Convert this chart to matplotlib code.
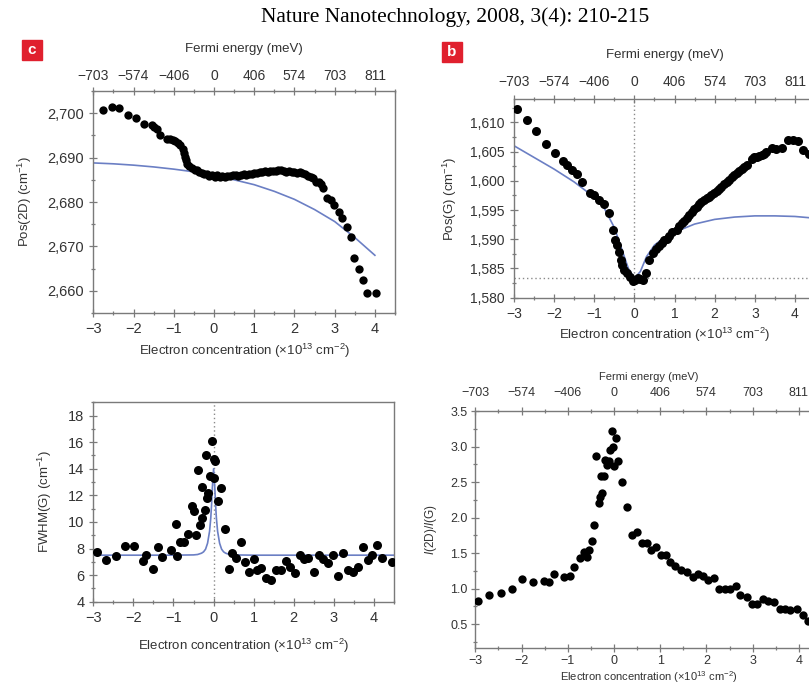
import matplotlib
matplotlib.use("Agg")
import matplotlib.pyplot as plt
from matplotlib.ticker import MultipleLocator, FixedLocator
from matplotlib.patches import Rectangle

plt.rcParams['font.family'] = ['Liberation Sans', 'DejaVu Sans']
plt.rcParams['mathtext.fontset'] = 'custom'
plt.rcParams['mathtext.rm'] = 'Liberation Sans'
plt.rcParams['mathtext.it'] = 'Liberation Sans:italic'

TEXT = '#333333'
SPINE = '#7a7a7a'
BLUE = '#6b7fc4'

# Fermi energy scale on the top axes (meV) at integer electron concentrations
fermi_pos = [-3, -2, -1, 0, 1, 2, 3, 4]
fermi_labels = ['\u2212703', '\u2212574', '\u2212406', '0', '406', '574', '703', '811']
n_ticks = [-3, -2, -1, 0, 1, 2, 3, 4]
n_labels = ['\u22123', '\u22122', '\u22121', '0', '1', '2', '3', '4']

# ---- Pos(2D) versus electron concentration ----
pos2d_n = [-2.75, -2.54, -2.35, -2.14, -1.94, -1.74, -1.55, -1.48, -1.42, -1.34,
           -1.17, -1.10, -1.03, -0.97, -0.90, -0.84, -0.78, -0.75, -0.72, -0.69,
           -0.66, -0.62, -0.55, -0.48, -0.42, -0.36, -0.30, -0.24, -0.18, -0.12,
           -0.05, 0.02, 0.08, 0.14, 0.20, 0.27, 0.33, 0.40, 0.47, 0.54,
           0.60, 0.67, 0.74, 0.80, 0.87, 0.94, 1.00, 1.07, 1.14, 1.20,
           1.27, 1.34, 1.40, 1.47, 1.54, 1.60, 1.67, 1.74, 1.80, 1.87,
           1.94, 2.00, 2.07, 2.14, 2.20, 2.27, 2.34, 2.40, 2.47, 2.54,
           2.60, 2.66, 2.72, 2.81, 2.90, 2.98, 3.10, 3.19, 3.31, 3.40,
           3.49, 3.60, 3.71, 3.81, 4.02]
pos2d_val = [2700.7, 2701.5, 2701.2, 2699.6, 2698.9, 2697.6, 2697.4, 2697.0, 2696.5, 2695.0,
             2694.3, 2694.1, 2693.9, 2693.7, 2693.4, 2692.9, 2691.9, 2691.0, 2690.2, 2689.4,
             2688.6, 2688.0, 2687.6, 2687.3, 2687.1, 2686.8, 2686.6, 2686.4, 2686.2, 2685.9,
             2686.1, 2685.7, 2686.0, 2685.7, 2685.8, 2685.6, 2685.8, 2685.9, 2686.0, 2686.1,
             2685.9, 2686.1, 2686.2, 2686.1, 2686.3, 2686.4, 2686.5, 2686.6, 2686.7, 2686.8,
             2686.9, 2686.8, 2686.9, 2687.0, 2686.9, 2687.1, 2687.2, 2687.0, 2686.8, 2686.9,
             2686.7, 2686.8, 2686.6, 2686.7, 2686.5, 2686.2, 2685.9, 2685.7, 2685.4, 2684.6,
             2684.4, 2684.1, 2683.1, 2680.8, 2680.5, 2679.3, 2677.8, 2676.3, 2674.4, 2672.2,
             2667.3, 2664.8, 2662.4, 2659.6, 2659.6]
pos2d_fit_n = [-3.0, -2.5, -2.0, -1.5, -1.0, -0.5, 0.0, 0.5, 1.0, 1.5, 2.0, 2.5, 3.0, 3.5, 4.0]
pos2d_fit = [2688.8, 2688.6, 2688.3, 2687.9, 2687.4, 2686.8, 2686.0, 2685.0, 2683.9,
             2682.4, 2680.6, 2678.3, 2675.6, 2672.0, 2668.0]

# ---- Pos(G) versus electron concentration ----
posg_n = [-2.92, -2.68, -2.44, -2.21, -1.98, -1.77, -1.69, -1.56, -1.44, -1.30,
          -1.11, -1.00, -0.87, -0.76, -0.64, -0.53, -0.48, -0.43, -0.38, -0.34,
          -0.30, -0.26, -0.19, -0.11, -0.04, 0.01, 0.08, 0.14, 0.22, 0.30,
          0.37, 0.47, 0.55, 0.62, 0.68, 0.74, 0.80, 0.87, 0.93, 1.05,
          1.12, 1.18, 1.24, 1.30, 1.37, 1.43, 1.49, 1.55, 1.61, 1.67,
          1.74, 1.80, 1.86, 1.92, 1.98, 2.05, 2.11, 2.17, 2.23, 2.30,
          2.36, 2.42, 2.48, 2.55, 2.61, 2.67, 2.73, 2.80, 2.92, 2.98,
          3.05, 3.11, 3.17, 3.23, 3.29, 3.42, 3.54, 3.67, 3.82, 3.96,
          4.08, 4.21, 4.35]
posg_val = [1612.3, 1610.4, 1608.6, 1606.3, 1604.7, 1603.4, 1602.7, 1601.8, 1601.1, 1599.8,
            1598.0, 1597.6, 1596.7, 1596.1, 1594.5, 1591.5, 1589.9, 1589.0, 1587.9, 1586.4,
            1585.6, 1584.8, 1584.2, 1583.5, 1582.9, 1583.1, 1583.3, 1583.2, 1583.0, 1584.3,
            1586.4, 1587.7, 1588.4, 1588.9, 1589.3, 1589.8, 1590.1, 1590.6, 1591.2, 1591.6,
            1592.2, 1592.8, 1593.2, 1593.7, 1594.2, 1594.7, 1595.1, 1595.6, 1596.0, 1596.4,
            1596.7, 1597.0, 1597.3, 1597.6, 1597.9, 1598.2, 1598.6, 1599.0, 1599.4, 1599.8,
            1600.2, 1600.7, 1601.0, 1601.4, 1601.7, 1602.0, 1602.4, 1602.7, 1603.8, 1604.0,
            1604.0, 1604.2, 1604.4, 1604.6, 1605.0, 1605.6, 1605.4, 1605.7, 1607.0, 1606.9,
            1606.8, 1605.2, 1604.6]
posg_fit_n = [-3.0, -2.5, -2.0, -1.5, -1.0, -0.75, -0.5, -0.3, -0.15, 0.0,
              0.15, 0.3, 0.5, 0.75, 1.0, 1.5, 2.0, 2.5, 3.0, 3.5, 4.0, 4.5]
posg_fit = [1606.0, 1604.0, 1602.0, 1599.8, 1597.2, 1595.3, 1592.0, 1588.0, 1585.0, 1583.3,
            1584.5, 1587.0, 1589.0, 1590.3, 1591.2, 1592.6, 1593.4, 1593.8, 1594.0, 1594.0,
            1593.9, 1593.6]
posg_min = 1583.3

# ---- FWHM(G) versus electron concentration ----
fwhm_n = [-2.92, -2.68, -2.44, -2.21, -1.98, -1.75, -1.69, -1.51, -1.38, -1.28,
          -1.07, -0.94, -0.90, -0.84, -0.74, -0.63, -0.55, -0.49, -0.43, -0.38,
          -0.33, -0.30, -0.28, -0.22, -0.20, -0.16, -0.14, -0.09, -0.05, 0.00,
          0.01, 0.03, 0.11, 0.18, 0.28, 0.38, 0.47, 0.57, 0.68, 0.78,
          0.89, 1.00, 1.09, 1.19, 1.30, 1.44, 1.55, 1.69, 1.80, 1.90,
          2.02, 2.15, 2.25, 2.36, 2.50, 2.63, 2.73, 2.85, 2.98, 3.10,
          3.23, 3.35, 3.48, 3.60, 3.73, 3.85, 3.96, 4.08, 4.21, 4.44]
fwhm_val = [7.76, 7.14, 7.46, 8.22, 8.22, 7.06, 7.51, 6.43, 8.14, 7.39,
            7.89, 9.82, 7.46, 8.47, 8.47, 9.07, 11.2, 10.85, 9.02, 13.9,
            9.77, 12.6, 10.27, 10.9, 15.04, 11.8, 12.15, 13.46, 16.1, 14.7,
            13.3, 14.6, 11.6, 12.53, 9.47, 6.48, 7.64, 7.26, 8.52, 7.0,
            6.23, 7.19, 6.38, 6.56, 5.76, 5.63, 6.38, 6.38, 7.09, 6.63,
            6.13, 7.51, 7.19, 7.31, 6.23, 7.51, 7.19, 6.89, 7.51, 5.93,
            7.69, 6.38, 6.26, 6.63, 8.09, 7.14, 7.49, 8.27, 7.31, 6.96]
fwhm_fit_n = [-3.0, -1.0, -0.5, -0.4, -0.3, -0.25, -0.2, -0.15, -0.1, -0.07,
              -0.05, -0.03, 0.0, 0.03, 0.05, 0.07, 0.1, 0.15, 0.2, 0.25,
              0.3, 0.4, 0.5, 1.0, 4.5]
fwhm_fit = [7.5, 7.5, 7.52, 7.55, 7.65, 7.75, 7.95, 8.4, 9.3, 10.3,
            11.3, 12.6, 14.0, 12.6, 11.3, 10.3, 9.3, 8.4, 7.95, 7.75,
            7.65, 7.55, 7.52, 7.5, 7.5]

# ---- I(2D)/I(G) versus electron concentration ----
ratio_n = [-2.94, -2.70, -2.45, -2.21, -1.98, -1.75, -1.51, -1.40, -1.30, -1.08,
           -0.95, -0.86, -0.74, -0.65, -0.59, -0.53, -0.48, -0.43, -0.38, -0.33,
           -0.30, -0.28, -0.25, -0.21, -0.20, -0.16, -0.11, -0.09, -0.04, -0.02,
           0.00, 0.04, 0.09, 0.18, 0.28, 0.38, 0.49, 0.60, 0.71, 0.80,
           0.90, 1.01, 1.12, 1.21, 1.32, 1.46, 1.57, 1.70, 1.81, 1.92,
           2.04, 2.16, 2.28, 2.40, 2.51, 2.63, 2.72, 2.87, 2.98, 3.10,
           3.23, 3.34, 3.46, 3.59, 3.70, 3.81, 3.95, 4.09, 4.20, 4.32]
ratio_val = [0.83, 0.91, 0.94, 1.00, 1.14, 1.09, 1.11, 1.09, 1.21, 1.17,
             1.18, 1.30, 1.43, 1.52, 1.45, 1.55, 1.67, 1.89, 2.86, 2.20,
             2.29, 2.58, 2.34, 2.58, 2.81, 2.74, 2.79, 2.95, 3.22, 3.00,
             2.72, 3.12, 2.80, 2.50, 2.15, 1.75, 1.80, 1.64, 1.65, 1.54,
             1.58, 1.47, 1.47, 1.38, 1.32, 1.26, 1.23, 1.16, 1.20, 1.18,
             1.12, 1.15, 1.00, 1.00, 0.99, 1.04, 0.91, 0.88, 0.78, 0.79,
             0.86, 0.82, 0.81, 0.72, 0.72, 0.70, 0.72, 0.63, 0.55, 0.50]

W, H = 809, 685
fig = plt.figure(figsize=(W / 100, H / 100), dpi=100)


def box(l, t, r, b):
    return [l / W, 1 - b / H, (r - l) / W, (b - t) / H]


def style(ax, size=10, pad=3.5):
    for s in ax.spines.values():
        s.set_color(SPINE)
        s.set_linewidth(1.0)
    ax.tick_params(which='both', direction='inout', colors=SPINE, labelcolor=TEXT,
                   labelsize=size, width=0.9, right=False, top=False, pad=pad)
    ax.tick_params(which='major', length=6)
    ax.tick_params(which='minor', length=3.5)
    ax.xaxis.set_major_locator(FixedLocator(n_ticks))
    ax.set_xticklabels(n_labels)
    ax.xaxis.set_minor_locator(MultipleLocator(0.5))


def fermi_top(ax, size=10, lsize=9.5, pad=3, lpad=11):
    top = ax.twiny()
    top.set_xlim(ax.get_xlim())
    top.set_ylim(ax.get_ylim())
    top.xaxis.set_major_locator(FixedLocator(fermi_pos))
    top.set_xticklabels(fermi_labels)
    top.xaxis.set_minor_locator(FixedLocator([p + 0.5 for p in fermi_pos]))
    top.tick_params(which='both', direction='inout', colors=SPINE, labelcolor=TEXT,
                    labelsize=size, width=0.9, pad=pad)
    top.tick_params(which='major', length=6)
    top.tick_params(which='minor', length=3.5)
    for s in top.spines.values():
        s.set_visible(False)
    top.set_xlabel('Fermi energy (meV)', fontsize=lsize, color=TEXT, labelpad=lpad)
    return top


xlabel = 'Electron concentration (\u00d710$^{13}$ cm$^{\u22122}$)'

# Panel c: Pos(2D)
ax1 = fig.add_axes(box(93.3, 91, 395, 313))
ax1.set_xlim(-3, 4.5)
ax1.set_ylim(2655, 2705)
style(ax1, size=10.5)
ax1.yaxis.set_major_locator(FixedLocator([2660, 2670, 2680, 2690, 2700]))
ax1.set_yticklabels(['2,660', '2,670', '2,680', '2,690', '2,700'])
ax1.yaxis.set_minor_locator(MultipleLocator(5))
ax1.plot(pos2d_fit_n, pos2d_fit, color=BLUE, lw=1.2, zorder=2)
ax1.plot(pos2d_n, pos2d_val, 'o', color='black', ms=6, mec='none', zorder=3)
ax1.set_ylabel('Pos(2D) (cm$^{\u22121}$)', fontsize=9.5, color=TEXT, labelpad=10)
ax1.set_xlabel(xlabel, fontsize=9.5, color=TEXT, labelpad=4)
fermi_top(ax1, pad=3, lpad=12)

# Panel b: Pos(G)
ax2 = fig.add_axes(box(514, 99, 815, 297.7))
ax2.set_xlim(-3, 4.5)
ax2.set_ylim(1580, 1614)
style(ax2)
ax2.yaxis.set_major_locator(FixedLocator([1580, 1585, 1590, 1595, 1600, 1605, 1610]))
ax2.set_yticklabels(['1,580', '1,585', '1,590', '1,595', '1,600', '1,605', '1,610'])
ax2.yaxis.set_minor_locator(MultipleLocator(2.5))
ax2.axvline(0, color='#8a8a8a', lw=1.0, ls=(0, (1, 2)), zorder=1)
ax2.axhline(posg_min, color='#8a8a8a', lw=1.0, ls=(0, (1, 2)), zorder=1)
ax2.plot(posg_fit_n, posg_fit, color=BLUE, lw=1.2, zorder=2)
ax2.plot(posg_n, posg_val, 'o', color='black', ms=6.5, mec='none', zorder=3)
ax2.set_ylabel('Pos(G) (cm$^{\u22121}$)', fontsize=9.5, color=TEXT, labelpad=8)
ax2.set_xlabel(xlabel, fontsize=9.5, color=TEXT, labelpad=4)
fermi_top(ax2, pad=4.5, lpad=12)

# FWHM(G)
ax3 = fig.add_axes(box(93.3, 402.3, 394, 601.7))
ax3.set_xlim(-3, 4.5)
ax3.set_ylim(4, 19)
style(ax3, size=10.5)
ax3.yaxis.set_major_locator(FixedLocator([4, 6, 8, 10, 12, 14, 16, 18]))
ax3.yaxis.set_minor_locator(MultipleLocator(1))
ax3.axvline(0, color='#8a8a8a', lw=1.0, ls=(0, (1, 2)), zorder=1)
ax3.plot(fwhm_fit_n, fwhm_fit, color=BLUE, lw=1.2, zorder=2)
ax3.plot(fwhm_n, fwhm_val, 'o', color='black', ms=6.5, mec='none', zorder=3)
ax3.set_ylabel('FWHM(G) (cm$^{\u22121}$)', fontsize=9.5, color=TEXT, labelpad=10)
ax3.set_xlabel(xlabel, fontsize=9.5, color=TEXT, labelpad=9)

# I(2D)/I(G)
ax4 = fig.add_axes(box(475.3, 411, 822, 647.7))
ax4.set_xlim(-3, 4.5)
ax4.set_ylim(0.17, 3.5)
style(ax4, size=9, pad=2.5)
ax4.yaxis.set_major_locator(FixedLocator([0.5, 1.0, 1.5, 2.0, 2.5, 3.0, 3.5]))
ax4.set_yticklabels(['0.5', '1.0', '1.5', '2.0', '2.5', '3.0', '3.5'])
ax4.yaxis.set_minor_locator(MultipleLocator(0.25))
ax4.plot(ratio_n, ratio_val, 'o', color='black', ms=6, mec='none', zorder=3)
ax4.set_ylabel('$\\mathit{I}$(2D)/$\\mathit{I}$(G)', fontsize=8.5, color=TEXT, labelpad=8)
ax4.set_xlabel(xlabel, fontsize=8, color=TEXT, labelpad=1)
fermi_top(ax4, size=9, lsize=8, pad=6, lpad=5)

# Journal reference and panel letters
fig.text(455 / W, 1 - 17 / H, 'Nature Nanotechnology, 2008, 3(4): 210-215',
         family=['Liberation Serif', 'DejaVu Serif'], fontsize=15.5, color='black',
         ha='center', va='center')
for (l, t, letter) in [(22, 40, 'c'), (442, 42, 'b')]:
    fig.patches.append(Rectangle((l / W, 1 - (t + 20) / H), 20 / W, 20 / H,
                                 transform=fig.transFigure, color='#e0202e', zorder=5))
    fig.text((l + 10) / W, 1 - (t + 10.5) / H, letter, color='white', fontsize=11,
             fontweight='bold', ha='center', va='center', zorder=6,
             family=['Liberation Sans', 'DejaVu Sans'])

fig.savefig('out.png', dpi=100)
